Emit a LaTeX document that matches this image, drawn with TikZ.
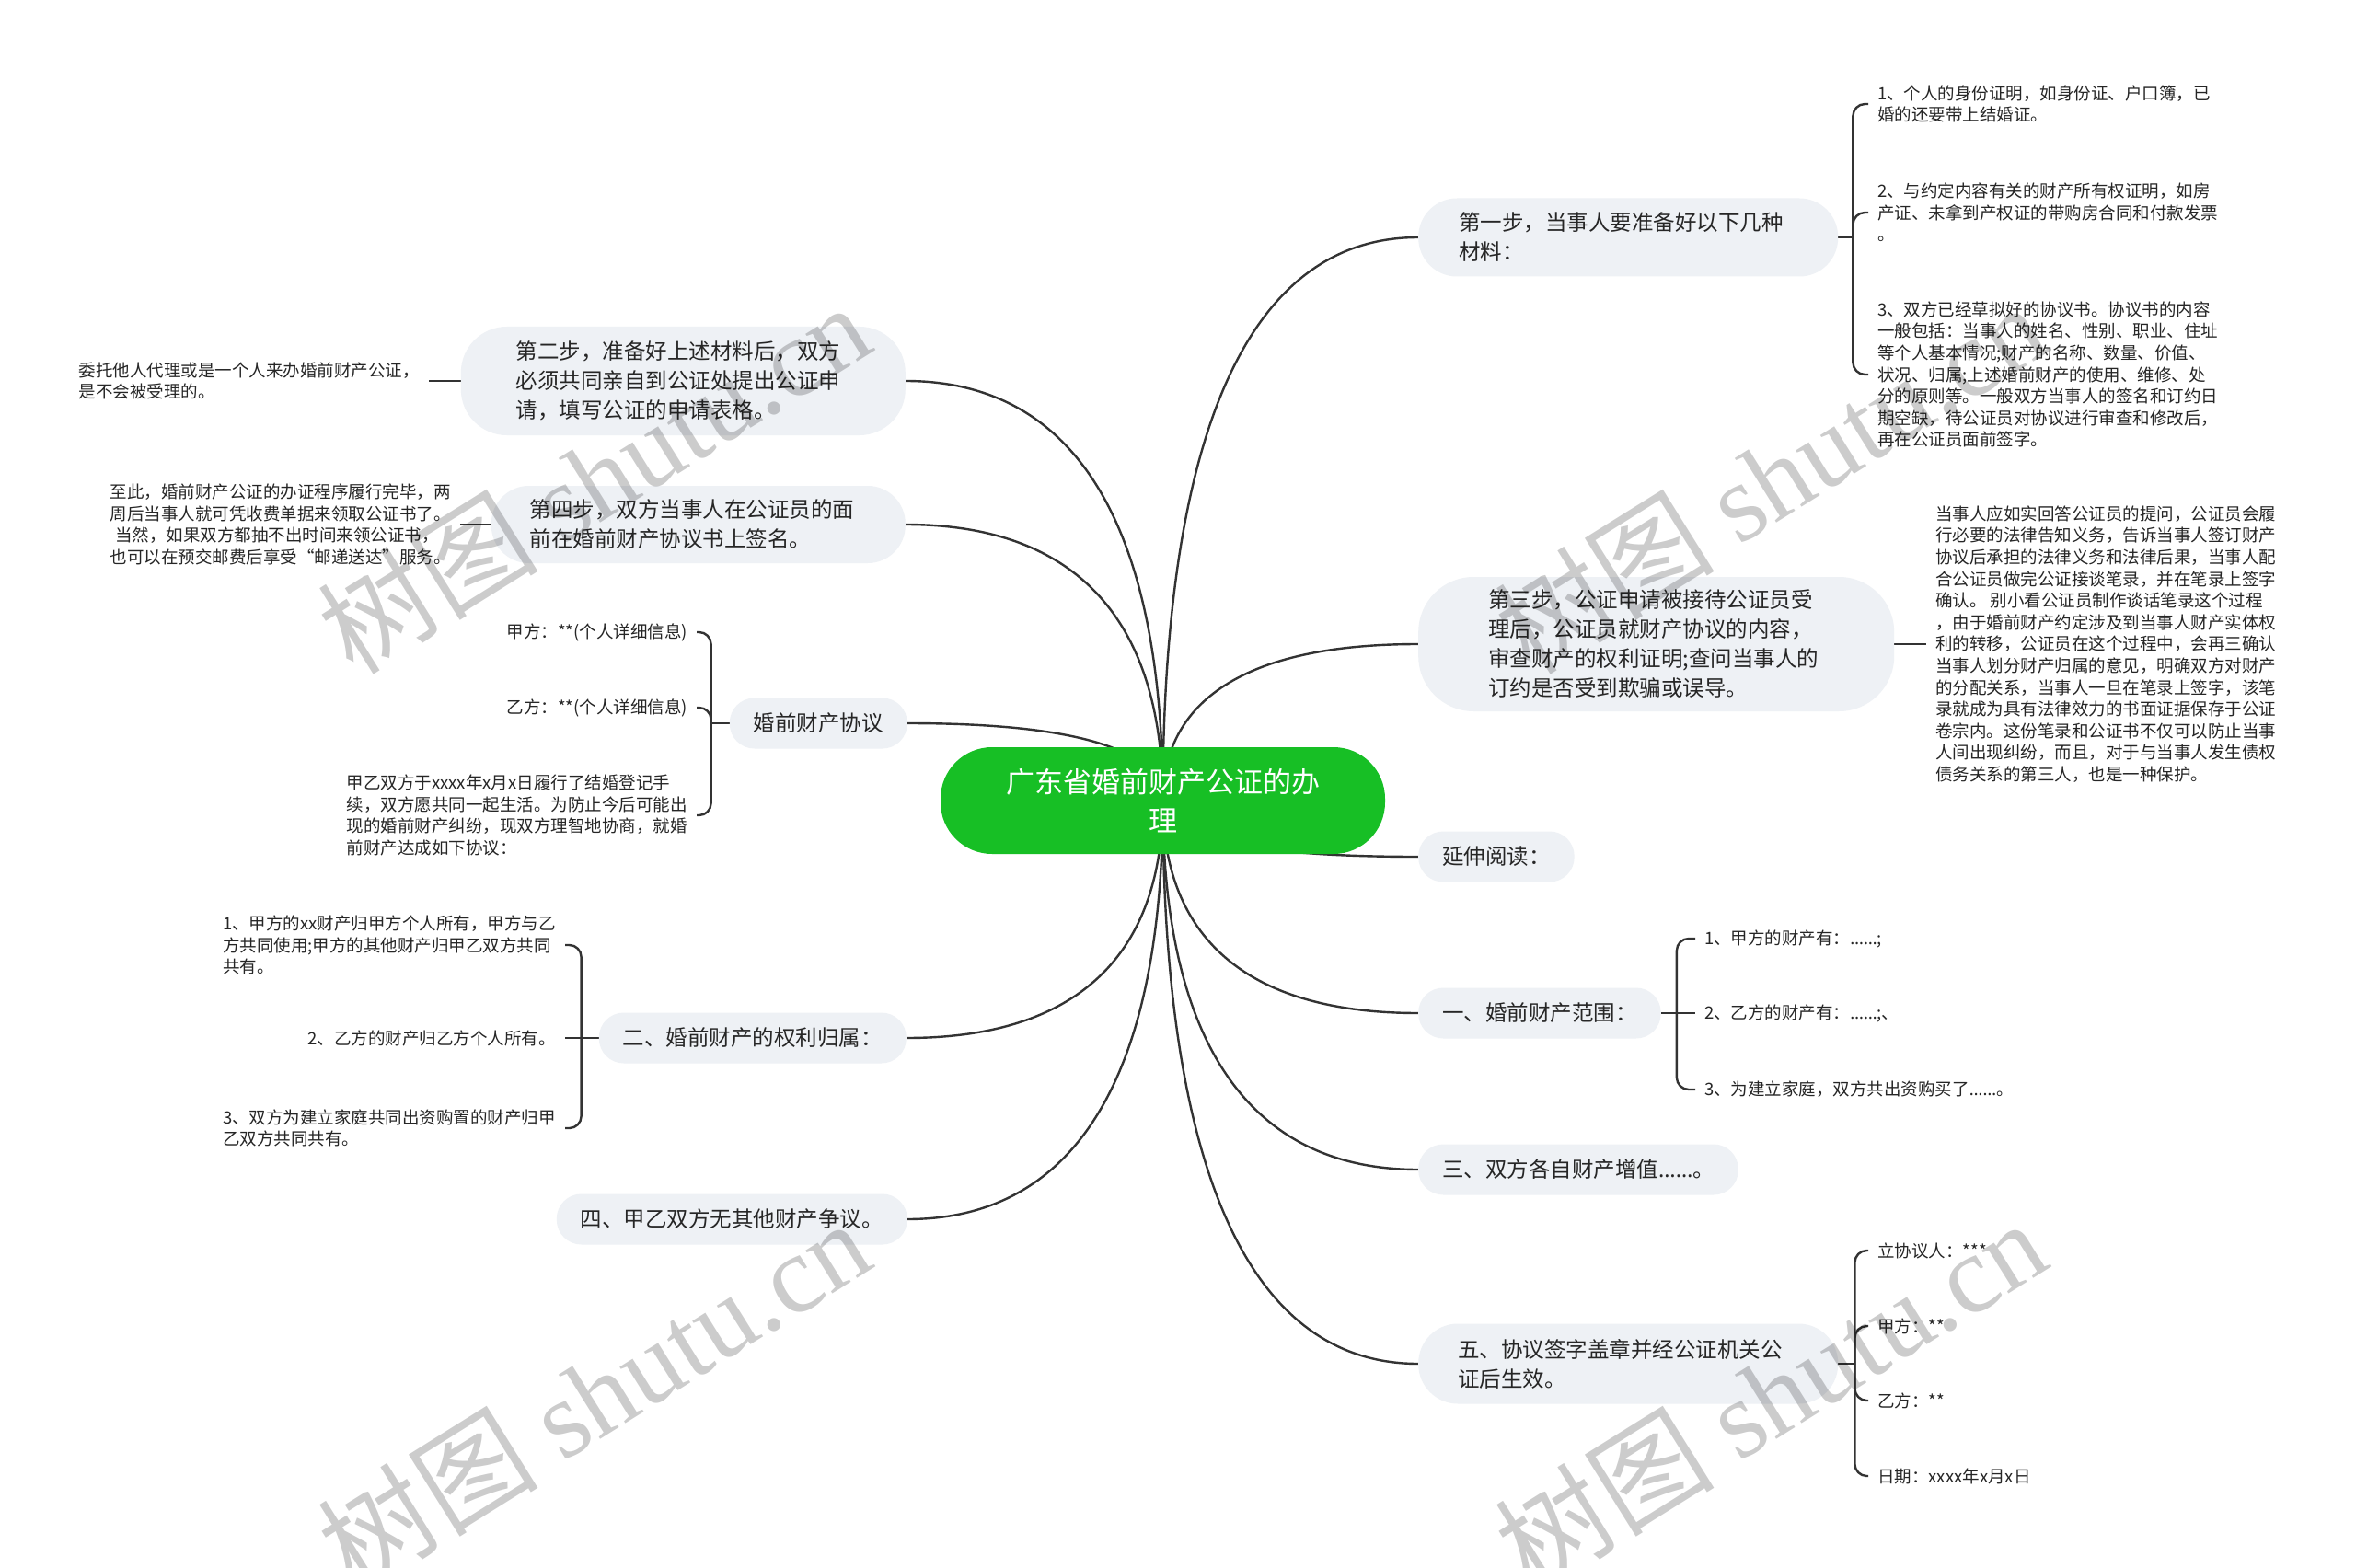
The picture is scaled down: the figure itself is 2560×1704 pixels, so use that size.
\documentclass[tikz,border=0pt]{standalone}
\usepackage{fontspec}
\setmainfont{Noto Sans CJK SC}
\newfontfamily\latinf{Noto Sans}
\newfontfamily\wmfont{Liberation Serif}
\usetikzlibrary{calc}
\definecolor{boxfill}{HTML}{EEF1F5}
\definecolor{rootgreen}{HTML}{17BF25}
\definecolor{linec}{HTML}{333333}
\definecolor{txtc}{HTML}{262626}
\newcommand{\ellip}{{\latinf ……}}
\pgfdeclarelayer{background}
\pgfsetlayers{background,main}
\newcommand{\rootlink}[1]{\draw[conn] let \p1=(root.center), \p2=(#1) in (\p1) .. controls ($(\p1)!0.5!(\x1,\y2)$) and ($(\x1,\y2)!0.2!(\p2)$) .. (\p2);}
\begin{document}
\begin{tikzpicture}[x=1pt,y=-1pt,
  conn/.style={draw=linec, line width=2.4pt},
  hook/.style={conn, rounded corners=13pt},
  branch/.style={fill=boxfill, text=txtc, font=\fontsize{23.5}{32}\selectfont, inner ysep=0pt, align=left},
  pill/.style={branch, rounded corners=27pt, minimum height=55pt, inner xsep=26pt},
  leaf/.style={text=txtc, font=\fontsize{18.5}{23.6}\selectfont, inner xsep=10pt, inner ysep=0pt, align=left},
  wm/.style={rotate=32, text=black, text opacity=0.2, font=\fontsize{120}{120}\selectfont, inner sep=0pt}]
\useasboundingbox (0,0) rectangle (2560,1704);

% root
\node[fill=rootgreen, text=white, rounded corners=56pt, minimum width=483pt, minimum height=116pt,
      font=\fontsize{31}{42}\selectfont, align=center, inner sep=0pt] (root) at (1263.5,870) {广东省婚前财产公证的办\\理};

% right branches
\node[branch, anchor=west, inner xsep=44pt, text width=368pt, minimum height=85pt, rounded corners=42pt] (b1) at (1541,258) {第一步，当事人要准备好以下几种\\材料：};
\node[branch, anchor=west, inner xsep=76pt, text width=365pt, minimum height=146pt, rounded corners=60pt] (b3) at (1541,700) {第三步，公证申请被接待公证员受\\理后，公证员就财产协议的内容，\\审查财产的权利证明;查问当事人的\\订约是否受到欺骗或误导。};
\node[pill, anchor=west] (br1) at (1541,931) {延伸阅读：};
\node[pill, anchor=west] (br2) at (1541,1101) {一、婚前财产范围：};
\node[pill, anchor=west] (br3) at (1541,1271) {三、双方各自财产增值\ellip 。};
\node[branch, anchor=west, inner xsep=43pt, text width=370pt, minimum height=87pt, rounded corners=43pt] (b5) at (1541,1482) {五、协议签字盖章并经公证机关公\\证后生效。};

% left branches
\node[branch, anchor=east, inner xsep=60pt, text width=363pt, minimum height=118pt, rounded corners=50pt] (b2) at (984,414) {第二步，准备好上述材料后，双方\\必须共同亲自到公证处提出公证申\\请，填写公证的申请表格。};
\node[branch, anchor=east, inner xsep=42pt, text width=366pt, minimum height=84pt, rounded corners=41pt] (b4) at (984,570) {第四步，双方当事人在公证员的面\\前在婚前财产协议书上签名。};
\node[pill, anchor=east] (bx) at (986,786) {婚前财产协议};
\node[pill, anchor=east] (b6) at (985,1128) {二、婚前财产的权利归属：};
\node[pill, anchor=east] (b7) at (986,1325) {四、甲乙双方无其他财产争议。};

% leaves right
\node[leaf, anchor=west] (c1a) at (2030,113) {1、个人的身份证明，如身份证、户口簿，已\\婚的还要带上结婚证。};
\node[leaf, anchor=west] (c1b) at (2030,231) {2、与约定内容有关的财产所有权证明，如房\\产证、未拿到产权证的带购房合同和付款发票\\。};
\node[leaf, anchor=west] (c1c) at (2030,407) {3、双方已经草拟好的协议书。协议书的内容\\一般包括：当事人的姓名、性别、职业、住址\\等个人基本情况;财产的名称、数量、价值、\\状况、归属;上述婚前财产的使用、维修、处\\分的原则等。一般双方当事人的签名和订约日\\期空缺，待公证员对协议进行审查和修改后，\\再在公证员面前签字。};
\node[leaf, anchor=west] (c3) at (2093,700) {当事人应如实回答公证员的提问，公证员会履\\行必要的法律告知义务，告诉当事人签订财产\\协议后承担的法律义务和法律后果，当事人配\\合公证员做完公证接谈笔录，并在笔录上签字\\确认。\ 别小看公证员制作谈话笔录这个过程\\，由于婚前财产约定涉及到当事人财产实体权\\利的转移，公证员在这个过程中，会再三确认\\当事人划分财产归属的意见，明确双方对财产\\的分配关系，当事人一旦在笔录上签字，该笔\\录就成为具有法律效力的书面证据保存于公证\\卷宗内。这份笔录和公证书不仅可以防止当事\\人间出现纠纷，而且，对于与当事人发生债权\\债务关系的第三人，也是一种保护。};
\node[leaf, anchor=west] (r1) at (1842,1020) {1、甲方的财产有：\ellip;};
\node[leaf, anchor=west] (r2) at (1842,1101) {2、乙方的财产有：\ellip;、};
\node[leaf, anchor=west] (r3) at (1842,1184) {3、为建立家庭，双方共出资购买了\ellip 。};
\node[leaf, anchor=west] (f1) at (2030,1359) {立协议人：***};
\node[leaf, anchor=west] (f2) at (2030,1441) {甲方：**};
\node[leaf, anchor=west] (f3) at (2030,1522) {乙方：**};
\node[leaf, anchor=west] (f4) at (2030,1604) {日期：xxxx年x月x日};

% leaves left
\node[leaf, anchor=east] (l2) at (466,414) {委托他人代理或是一个人来办婚前财产公证，\\是不会被受理的。};
\node[leaf, anchor=east] (l4) at (500,570) {至此，婚前财产公证的办证程序履行完毕，两\\周后当事人就可凭收费单据来领取公证书了。\\\hspace*{0.3em}当然，如果双方都抽不出时间来领公证书，\\也可以在预交邮费后享受“邮递送达”服务。};
\node[leaf, anchor=east] (x1) at (757,687) {甲方：**(个人详细信息)};
\node[leaf, anchor=east] (x2) at (757,769) {乙方：**(个人详细信息)};
\node[leaf, anchor=east] (x3) at (757,886) {甲乙双方于xxxx年x月x日履行了结婚登记手\\续，双方愿共同一起生活。为防止今后可能出\\现的婚前财产纠纷，现双方理智地协商，就婚\\前财产达成如下协议：};
\node[leaf, anchor=east] (e1) at (614,1027) {1、甲方的xx财产归甲方个人所有，甲方与乙\\方共同使用;甲方的其他财产归甲乙双方共同\\共有。};
\node[leaf, anchor=east] (e2) at (614,1128) {2、乙方的财产归乙方个人所有。};
\node[leaf, anchor=east] (e3) at (614,1226) {3、双方为建立家庭共同出资购置的财产归甲\\乙双方共同共有。};

% watermarks
\node[wm] (w1) at (645,519) {树图 {\wmfont shutu.cn}};
\node[wm] (w2) at (1923,519) {树图 {\wmfont shutu.cn}};
\node[wm] (w3) at (645,1515) {树图 {\wmfont shutu.cn}};
\node[wm] (w4) at (1923,1515) {树图 {\wmfont shutu.cn}};

\begin{pgfonlayer}{background}
\fill[white] (0,0) rectangle (2560,1704);
% root connectors
\rootlink{b1.west}
\rootlink{b3.west}
\rootlink{br1.west}
\rootlink{br2.west}
\rootlink{br3.west}
\rootlink{b5.west}
\rootlink{b2.east}
\rootlink{b4.east}
\rootlink{bx.east}
\rootlink{b6.east}
\rootlink{b7.east}
% b1 bracket
\draw[conn] (b1.east) -- ++(16,0) coordinate (s1);
\draw[hook] (s1) |- (c1a.west);
\draw[hook] (s1) |- (c1b.west);
\draw[hook] (s1) |- (c1c.west);
% b3 single
\draw[conn] (b3.east) -- (c3.west);
% br2 bracket
\draw[conn] (br2.east) -- ++(17,0) coordinate (s2);
\draw[hook] (s2) |- (r1.west);
\draw[conn] (s2) -- (r2.west);
\draw[hook] (s2) |- (r3.west);
% b5 bracket
\draw[conn] (b5.east) -- ++(18,0) coordinate (s5);
\draw[hook] (s5) |- (f1.west);
\draw[hook] (s5) |- (f2.west);
\draw[hook] (s5) |- (f3.west);
\draw[hook] (s5) |- (f4.west);
% left singles
\draw[conn] (b2.west) -- (l2.east);
\draw[conn] (b4.west) -- (l4.east);
% bx bracket
\draw[conn] (bx.west) -- ++(-20,0) coordinate (sx);
\draw[hook] (sx) |- (x1.east);
\draw[hook] (sx) |- (x2.east);
\draw[hook] (sx) |- (x3.east);
% b6 bracket
\draw[conn] (b6.west) -- ++(-19,0) coordinate (s6);
\draw[hook] (s6) |- (e1.east);
\draw[conn] (s6) -- (e2.east);
\draw[hook] (s6) |- (e3.east);
\end{pgfonlayer}
\end{tikzpicture}
\end{document}
